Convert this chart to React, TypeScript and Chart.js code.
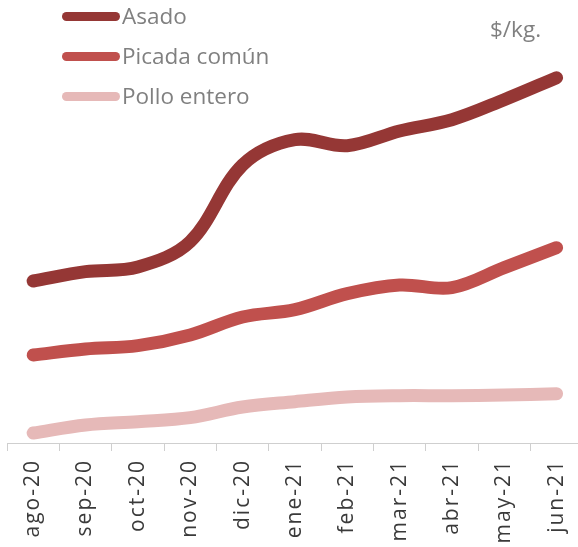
import React, { useEffect, useRef } from "react";
import { Chart, registerables } from "chart.js";

Chart.register(...registerables);

const categories = ["ago-20", "sep-20", "oct-20", "nov-20", "dic-20", "ene-21", "feb-21", "mar-21", "abr-21", "may-21", "jun-21"];
const asado = [383, 397, 404, 442, 557, 595, 586, 608, 625, 655, 688];
const picada = [272, 281, 286, 302, 329, 340, 364, 377, 373, 403, 433];
const pollo = [155, 167, 172, 178, 194, 202, 209, 211, 211, 212, 214];
const seriesNames = ["Asado", "Picada común", "Pollo entero"];
const seriesColors = ["#953735", "#C0504D", "#E6B9B8"];
const unitLabel = "$/kg.";
const yMin = 140;
const yMax = 800;

const FONT = '"Open Sans", "DejaVu Sans", sans-serif';

const spacingPlugin = {
  id: "labelSpacing",
  beforeUpdate(chart: any) {
    chart.ctx.letterSpacing = "2px";
  },
  beforeDraw(chart: any) {
    chart.ctx.letterSpacing = "2px";
  },
};

export default function App() {
  const ref = useRef<HTMLCanvasElement | null>(null);

  useEffect(() => {
    if (!ref.current) return;
    const seriesData = [asado, picada, pollo];
    const chart = new Chart(ref.current, {
      type: "line",
      data: {
        labels: categories,
        datasets: seriesData.map((d, i) => ({
          label: seriesNames[i],
          data: d,
          borderColor: seriesColors[i],
          backgroundColor: seriesColors[i],
          borderWidth: 13,
          borderCapStyle: "round",
          borderJoinStyle: "round",
          pointRadius: 0,
          pointHoverRadius: 0,
          tension: 0.35,
          fill: false,
          clip: false,
        })) as any,
      },
      options: {
        responsive: false,
        animation: false,
        events: [],
        layout: { padding: { left: 7, right: 5, top: 3, bottom: 0 } },
        plugins: {
          legend: { display: false },
          tooltip: { enabled: false },
          title: { display: false },
        },
        scales: {
          x: {
            type: "category",
            offset: true,
            grid: {
              offset: true,
              drawOnChartArea: false,
              drawTicks: true,
              tickLength: 8,
              color: "#cfcfcf",
              lineWidth: 1,
            },
            border: { display: true, color: "#cfcfcf", width: 1 },
            ticks: {
              autoSkip: false,
              minRotation: 90,
              maxRotation: 90,
              padding: 8,
              color: "#3a3a3a",
              font: { family: FONT, size: 21 },
            },
            afterFit(scale: any) {
              scale.height = 104;
            },
          },
          y: {
            display: false,
            min: yMin,
            max: yMax,
          },
        },
      },
      plugins: [spacingPlugin],
    });
    return () => chart.destroy();
  }, []);

  const legendTops = [0, 40, 80];

  return (
    <div
      style={{
        position: "fixed",
        left: 0,
        top: 0,
        width: 578,
        height: 547,
        overflow: "hidden",
        background: "#ffffff",
        fontFamily: FONT,
      }}
    >
      <canvas
        ref={ref}
        width={590}
        height={547}
        style={{ position: "absolute", left: 0, top: 0, width: 590, height: 547 }}
      />
      {seriesNames.map((name, i) => (
        <div key={name}>
          <div
            style={{
              position: "absolute",
              left: 62,
              top: legendTops[i] + 12,
              width: 58,
              height: 9,
              borderRadius: 4.5,
              background: seriesColors[i],
            }}
          />
          <div
            style={{
              position: "absolute",
              left: 122,
              top: legendTops[i],
              fontSize: 22.5,
              color: "#808080",
              whiteSpace: "nowrap",
              lineHeight: "normal",
            }}
          >
            {name}
          </div>
        </div>
      ))}
      <div
        style={{
          position: "absolute",
          left: 490,
          top: 13,
          fontSize: 22.5,
          color: "#808080",
          whiteSpace: "nowrap",
          lineHeight: "normal",
        }}
      >
        {unitLabel}
      </div>
    </div>
  );
}
